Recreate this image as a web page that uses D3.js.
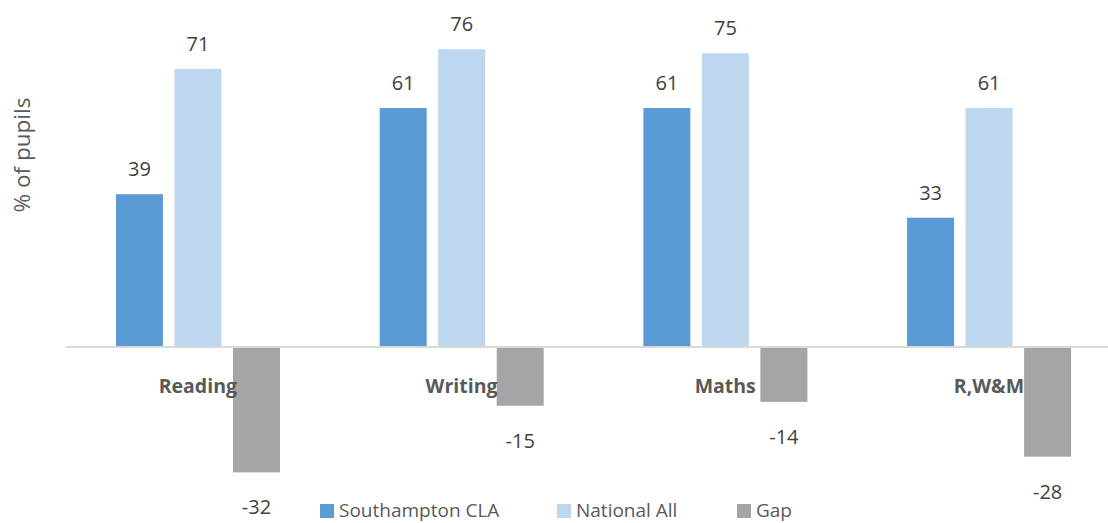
<!DOCTYPE html>
<html>
<head>
<meta charset="utf-8">
<script src="https://cdn.jsdelivr.net/npm/d3@7"></script>
<style>
  body { margin: 0; background: #fff; }
  svg { display: block; font-family: "Open Sans", "Noto Sans", sans-serif; }
  .value { font-size: 20px; fill: #404040; text-anchor: middle; }
  .cat { font-size: 19.5px; font-weight: bold; fill: #595959; text-anchor: middle; }
  .legend-text { font-size: 19px; fill: #595959; }
</style>
</head>
<body>
<svg id="chart" width="1108" height="523"></svg>
<script>
// data
const categories = ["Reading", "Writing", "Maths", "R,W&M"];
const seriesNames = ["Southampton CLA", "National All", "Gap"];
const southampton = [39, 61, 61, 33];
const national = [71, 76, 75, 61];
const gap = [-32, -15, -14, -28];

const colors = ["#5B9BD5", "#BDD7EE", "#A5A5A5"];

const svg = d3.select("#chart");

// scales
const x0 = d3.scaleBand()
    .domain(categories)
    .range([66, 66 + 4 * 263.7]);

const x1 = d3.scaleBand()
    .domain(seriesNames)
    .range([50, 214])
    .paddingInner(0.197);

const y = d3.scaleLinear()
    .domain([-40, 80])
    .range([503.7, 33.6]);

// build rows
const rows = categories.map((c, i) => ({
    cat: c,
    vals: [southampton[i], national[i], gap[i]].map((v, j) => ({ key: seriesNames[j], v: v, j: j }))
}));

// zero axis line
svg.append("line")
    .attr("x1", 66)
    .attr("x2", 1108)
    .attr("y1", y(0))
    .attr("y2", y(0))
    .attr("stroke", "#D9D9D9")
    .attr("stroke-width", 2);

// bars
const groups = svg.selectAll("g.grp")
    .data(rows)
    .enter()
    .append("g")
    .attr("class", "grp")
    .attr("transform", d => `translate(${x0(d.cat)},0)`);

groups.selectAll("rect")
    .data(d => d.vals)
    .enter()
    .append("rect")
    .attr("x", d => x1(d.key))
    .attr("y", d => d.v >= 0 ? y(d.v) : y(0) + 1)
    .attr("width", x1.bandwidth())
    .attr("height", d => d.v >= 0 ? y(0) - 1 - y(d.v) : y(d.v) - y(0) - 1)
    .attr("fill", d => colors[d.j]);

// category labels, on top of the bars
svg.selectAll("text.cat")
    .data(categories)
    .enter()
    .append("text")
    .attr("class", "cat")
    .attr("x", d => x0(d) + x0.bandwidth() / 2)
    .attr("y", y(0) + 46)
    .text(d => d);

// value labels
groups.selectAll("text.value")
    .data(d => d.vals)
    .enter()
    .append("text")
    .attr("class", "value")
    .attr("x", d => x1(d.key) + x1.bandwidth() / 2)
    .attr("y", d => d.v >= 0 ? y(d.v) - 18 : y(d.v) + 42)
    .text(d => d.v);

// y axis title
svg.append("text")
    .attr("transform", "rotate(-90)")
    .attr("x", -155)
    .attr("y", 30)
    .attr("text-anchor", "middle")
    .style("font-size", "22.5px")
    .style("fill", "#595959")
    .text("% of pupils");

// legend
const legendX = [320, 557, 737];
const legend = svg.selectAll("g.legend")
    .data(seriesNames)
    .enter()
    .append("g")
    .attr("class", "legend")
    .attr("transform", (d, i) => `translate(${legendX[i]},504)`);

legend.append("rect")
    .attr("width", 14)
    .attr("height", 14)
    .attr("fill", (d, i) => colors[i]);

legend.append("text")
    .attr("class", "legend-text")
    .attr("x", 19)
    .attr("y", 13)
    .text(d => d);
</script>
</body>
</html>
